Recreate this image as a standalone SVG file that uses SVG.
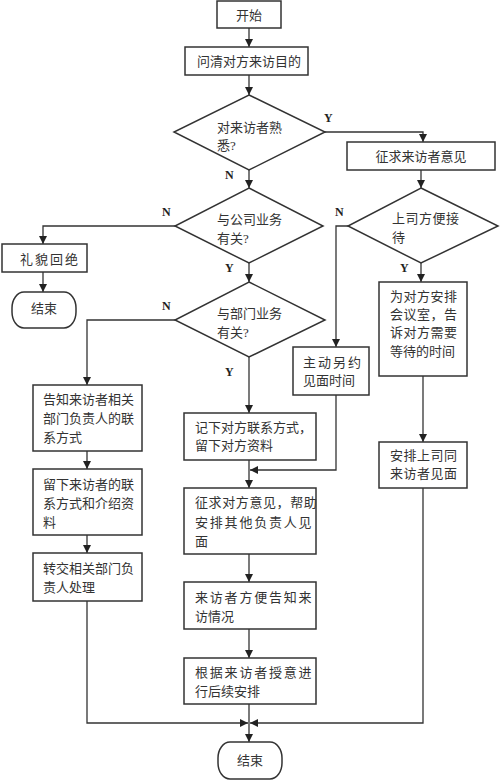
<svg xmlns="http://www.w3.org/2000/svg" width="500" height="781" viewBox="0 0 500 781">
<defs>
<marker id="ah" viewBox="0 0 10 10" refX="10" refY="5" markerWidth="8" markerHeight="8" markerUnits="userSpaceOnUse" orient="auto">
<path d="M0,0 L10,5 L0,10 z" fill="#222"/>
</marker>
</defs>
<style>
.b{fill:#fff;stroke:#333;stroke-width:1.5}
.c{fill:none;stroke:#333;stroke-width:1.3}
.a{fill:none;stroke:#333;stroke-width:1.3;marker-end:url(#ah)}
text{font-family:"Liberation Serif","Noto Sans CJK SC",serif;font-size:13px;fill:#333}
.m{text-anchor:middle}
.l{font-weight:bold;font-size:12px;fill:#222}
</style>
<rect width="500" height="781" fill="#fff"/>
<g id="connectors">
<path class="a" d="M249,28 V47"/>
<path class="a" d="M249,75 V95"/>
<path class="a" d="M325,132 H423 V142"/>
<path class="a" d="M421,170 V188"/>
<path class="a" d="M249,170 V188"/>
<path class="a" d="M175,226 H43 V244"/>
<path class="a" d="M43,272 V292"/>
<path class="a" d="M249,263 V282"/>
<path class="a" d="M348,226 H336 V347"/>
<path class="a" d="M421,263 V282"/>
<path class="a" d="M423,376 V442"/>
<path class="a" d="M175,320 H87 V385"/>
<path class="a" d="M87,451 V469"/>
<path class="a" d="M87,535 V553"/>
<path class="a" d="M249,357 V413"/>
<path class="a" d="M336,395 V470 H250"/>
<path class="a" d="M249,460 V488"/>
<path class="a" d="M249,554 V582"/>
<path class="a" d="M249,629 V658"/>
<path class="a" d="M249,704 V742"/>
<path class="a" d="M87,601 V723 H248"/>
<path class="a" d="M423,488 V723 H250"/>
<text class="l" x="324" y="122">Y</text>
<text class="l" x="225" y="179">N</text>
<text class="l" x="162" y="216">N</text>
<text class="l" x="225" y="272">Y</text>
<text class="l" x="162" y="310">N</text>
<text class="l" x="225" y="376">Y</text>
<text class="l" x="335" y="216">N</text>
<text class="l" x="400" y="272">Y</text>
</g>
<g id="start">
<rect class="b" x="217" y="1" width="64" height="27"/>
<text class="m" x="249" y="20">开始</text>
</g>
<g id="ask">
<rect class="b" x="185" y="47" width="123" height="28"/>
<text class="m" x="249" y="66" letter-spacing="0">问清对方来访目的</text>
</g>
<g id="d1">
<path class="b" d="M249,95 L325,132 L249,170 L174,132 z"/>
<text x="217" y="132">对来访者熟</text>
<text x="217" y="150">悉?</text>
</g>
<g id="seek">
<rect class="b" x="347" y="142" width="148" height="28"/>
<text class="m" x="421" y="161">征求来访者意见</text>
</g>
<g id="d4">
<path class="b" d="M421,188 L498,226 L421,263 L348,226 z"/>
<text x="392" y="223" letter-spacing="0.5">上司方便接</text>
<text x="392" y="242">待</text>
</g>
<g id="d2">
<path class="b" d="M249,188 L323,226 L249,263 L175,226 z"/>
<text x="217" y="224">与公司业务</text>
<text x="217" y="243">有关?</text>
</g>
<g id="refuse">
<rect class="b" x="2" y="244" width="85" height="28"/>
<text x="20" y="264" letter-spacing="2">礼貌回绝</text>
</g>
<g id="end1">
<rect class="b" x="12" y="292" width="64" height="36" rx="12" ry="16"/>
<text class="m" x="44" y="313">结束</text>
</g>
<g id="d3">
<path class="b" d="M249,282 L325,320 L249,357 L175,320 z"/>
<text x="217" y="318">与部门业务</text>
<text x="217" y="337">有关?</text>
</g>
<g id="other">
<rect class="b" x="293" y="347" width="76" height="48"/>
<text x="303" y="367" letter-spacing="2">主动另约</text>
<text x="303" y="385">见面时间</text>
</g>
<g id="room">
<rect class="b" x="379" y="282" width="88" height="94"/>
<text x="390" y="301" letter-spacing="0.5">为对方安排</text>
<text x="390" y="319" letter-spacing="0.5">会议室，告</text>
<text x="390" y="337" letter-spacing="0.5">诉对方需要</text>
<text x="390" y="356">等待的时间</text>
</g>
<g id="meet">
<rect class="b" x="379" y="442" width="88" height="46"/>
<text x="390" y="460" letter-spacing="0.5">安排上司同</text>
<text x="390" y="478" letter-spacing="0.5">来访者见面</text>
</g>
<g id="tell">
<rect class="b" x="33" y="385" width="109" height="66"/>
<text x="43" y="404">告知来访者相关</text>
<text x="43" y="423">部门负责人的联</text>
<text x="43" y="442">系方式</text>
</g>
<g id="leave">
<rect class="b" x="33" y="469" width="109" height="66"/>
<text x="43" y="489">留下来访者的联</text>
<text x="43" y="508">系方式和介绍资</text>
<text x="43" y="527">料</text>
</g>
<g id="transfer">
<rect class="b" x="33" y="553" width="109" height="48"/>
<text x="43" y="573">转交相关部门负</text>
<text x="43" y="592">责人处理</text>
</g>
<g id="record">
<rect class="b" x="184" y="413" width="132" height="47"/>
<text x="195" y="432">记下对方联系方式，</text>
<text x="195" y="450">留下对方资料</text>
</g>
<g id="help">
<rect class="b" x="184" y="488" width="132" height="66"/>
<text x="195" y="507" letter-spacing="0.6">征求对方意见，帮助</text>
<text x="195" y="527" letter-spacing="1.8">安排其他负责人见</text>
<text x="195" y="546">面</text>
</g>
<g id="inform">
<rect class="b" x="184" y="582" width="132" height="47"/>
<text x="195" y="602" letter-spacing="1.8">来访者方便告知来</text>
<text x="195" y="621">访情况</text>
</g>
<g id="follow">
<rect class="b" x="184" y="658" width="132" height="46"/>
<text x="195" y="677" letter-spacing="1.8">根据来访者授意进</text>
<text x="195" y="696">行后续安排</text>
</g>
<g id="end2">
<rect class="b" x="218" y="742" width="64" height="37" rx="12" ry="16"/>
<text class="m" x="250" y="765">结束</text>
</g>
</svg>
